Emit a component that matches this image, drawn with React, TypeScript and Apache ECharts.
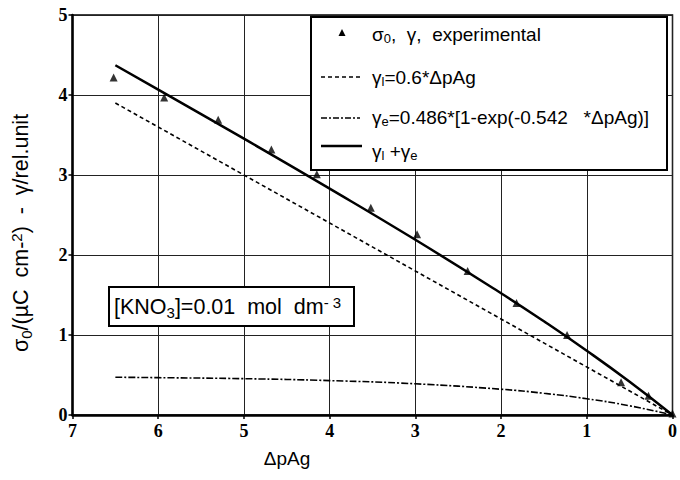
import React, { useEffect, useRef } from "react";
import * as echarts from "echarts";

// Experimental points (ΔpAg, σ0/γ)
const expX = [6.52, 5.93, 5.3, 4.68, 4.15, 3.52, 2.98, 2.39, 1.82, 1.23, 0.6, 0.28, 0.0];
const expY = [4.22, 3.97, 3.69, 3.32, 3.01, 2.59, 2.26, 1.8, 1.4, 1.0, 0.41, 0.24, 0.02];

// Dashed line: γl
const linX = [6.5, 0];
const linY = [3.9, 0];

// Dash-dot curve: γe
const curveX = [6.5, 6, 5, 4, 3, 2, 1.5, 1, 0.5, 0];
const eY = [0.472, 0.467, 0.454, 0.43, 0.39, 0.322, 0.271, 0.203, 0.115, 0];

// Solid curve: γl + γe
const sumY = [4.372, 4.067, 3.454, 2.83, 2.19, 1.522, 1.171, 0.803, 0.415, 0];

const xTicks = [0, 1, 2, 3, 4, 5, 6, 7];
const yTicks = [0, 1, 2, 3, 4, 5];

const SANS = "'Liberation Sans', Arial, sans-serif";
const SERIF = "'Liberation Serif', 'Times New Roman', serif";

export default function App() {
  const ref = useRef<HTMLDivElement>(null);
  useEffect(() => {
    document.body.style.margin = "0";
    if (!ref.current) return;
    const chart = echarts.init(ref.current, null, { renderer: "svg" });
    const pair = (xs: number[], ys: number[]) => xs.map((x, i) => [x, ys[i]]);
    const rich = {
      a: { fontFamily: SANS, fontSize: 19, fill: "#000" },
      s: { fontFamily: SANS, fontSize: 13, fill: "#000", padding: [9, 0, 0, 0] },
      u: { fontFamily: SANS, fontSize: 13, fill: "#000", padding: [0, 0, 9, 0] },
    };
    const richBig = {
      a: { fontFamily: SANS, fontSize: 21.5, fill: "#000" },
      s: { fontFamily: SANS, fontSize: 15, fill: "#000", padding: [10, 0, 0, 0] },
      u: { fontFamily: SANS, fontSize: 15, fill: "#000", padding: [0, 0, 10, 0] },
    };
    chart.setOption({
      animation: false,
      backgroundColor: "#fff",
      grid: {
        left: 72.5,
        right: 4,
        top: 15,
        bottom: 65,
        show: true,
        borderColor: "#000",
        borderWidth: 1.5,
      },
      xAxis: {
        type: "value",
        min: xTicks[0],
        max: xTicks[xTicks.length - 1],
        interval: 1,
        inverse: true,
        axisLine: { show: true, onZero: false, lineStyle: { color: "#000", width: 2.5 } },
        axisTick: { show: true, length: 4, lineStyle: { color: "#000", width: 1.5 } },
        axisLabel: {
          color: "#000",
          fontFamily: SERIF,
          fontWeight: "bold",
          fontSize: 18,
          margin: 7,
        },
        splitLine: { show: true, lineStyle: { color: "#222", width: 1 } },
      },
      yAxis: {
        type: "value",
        min: yTicks[0],
        max: yTicks[yTicks.length - 1],
        interval: 1,
        axisLine: { show: true, onZero: false, lineStyle: { color: "#000", width: 2.5 } },
        axisTick: { show: true, length: 4, lineStyle: { color: "#000", width: 1.5 } },
        axisLabel: {
          color: "#000",
          fontFamily: SERIF,
          fontWeight: "bold",
          fontSize: 18,
          margin: 5,
        },
        splitLine: { show: true, lineStyle: { color: "#222", width: 1 } },
      },
      series: [
        {
          type: "line",
          data: pair(linX, linY),
          symbol: "none",
          lineStyle: { color: "#000", width: 1.6, type: [4, 3] },
          z: 3,
        },
        {
          type: "line",
          data: pair(curveX, eY),
          symbol: "none",
          smooth: true,
          lineStyle: { color: "#000", width: 1.6, type: [7, 2, 2, 2] },
          z: 3,
        },
        {
          type: "line",
          data: pair(curveX, sumY),
          symbol: "none",
          smooth: true,
          lineStyle: { color: "#000", width: 2.5 },
          z: 4,
        },
        {
          type: "scatter",
          data: pair(expX, expY),
          symbol: "triangle",
          symbolSize: 8,
          itemStyle: { color: "#000" },
          z: 5,
        },
      ],
      graphic: [
        // legend box
        {
          type: "rect",
          shape: { x: 311, y: 17, width: 356, height: 153 },
          style: { fill: "#fff", stroke: "#000", lineWidth: 2 },
          z: 10,
        },
        {
          type: "polygon",
          shape: { points: [[342, 29], [338.5, 36], [345.5, 36]] },
          style: { fill: "#000" },
          z: 11,
        },
        {
          type: "text",
          x: 372,
          y: 34,
          style: {
            text: "{a|σ}{s|0}{a|,  γ,  experimental}",
            rich,
            verticalAlign: "middle",
          },
          z: 11,
        },
        {
          type: "line",
          shape: { x1: 321, y1: 77, x2: 360, y2: 77 },
          style: { stroke: "#000", lineWidth: 1.6, lineDash: [4, 3] },
          z: 11,
        },
        {
          type: "text",
          x: 372,
          y: 77,
          style: { text: "{a|γ}{s|l}{a|=0.6*ΔpAg}", rich, verticalAlign: "middle" },
          z: 11,
        },
        {
          type: "line",
          shape: { x1: 321, y1: 118, x2: 360, y2: 118 },
          style: { stroke: "#000", lineWidth: 1.6, lineDash: [6, 2, 2, 2] },
          z: 11,
        },
        {
          type: "text",
          x: 372,
          y: 117,
          style: {
            text: "{a|γ}{s|e}{a|=0.486*[1-exp(-0.542   *ΔpAg)]}",
            rich,
            verticalAlign: "middle",
          },
          z: 11,
        },
        {
          type: "line",
          shape: { x1: 321, y1: 146, x2: 362, y2: 146 },
          style: { stroke: "#000", lineWidth: 2.5 },
          z: 11,
        },
        {
          type: "text",
          x: 372,
          y: 151,
          style: { text: "{a|γ}{s|l}{a| +γ}{s|e}", rich, verticalAlign: "middle" },
          z: 11,
        },
        // annotation box
        {
          type: "rect",
          shape: { x: 109, y: 287, width: 245, height: 39 },
          style: { fill: "#fff", stroke: "#000", lineWidth: 2 },
          z: 10,
        },
        {
          type: "text",
          x: 114,
          y: 307,
          style: {
            text: "{a|[KNO}{s|3}{a|]=0.01  mol  dm}{u|- 3}",
            rich: richBig,
            verticalAlign: "middle",
          },
          z: 11,
        },
        // axis titles
        {
          type: "text",
          x: 287,
          y: 458,
          style: {
            text: "ΔpAg",
            fontFamily: SANS,
            fontSize: 19,
            fill: "#000",
            align: "center",
            verticalAlign: "middle",
          },
        },
        {
          type: "text",
          x: 21,
          y: 233,
          rotation: Math.PI / 2,
          style: {
            text: "{a|σ}{s|0}{a|/(µC  cm-}{u|2}{a|)  -  γ/rel.unit}",
            rich: richBig,
            align: "center",
            verticalAlign: "middle",
          },
        },
      ],
    });
    return () => chart.dispose();
  }, []);
  return <div ref={ref} style={{ width: 680, height: 480 }} />;
}
